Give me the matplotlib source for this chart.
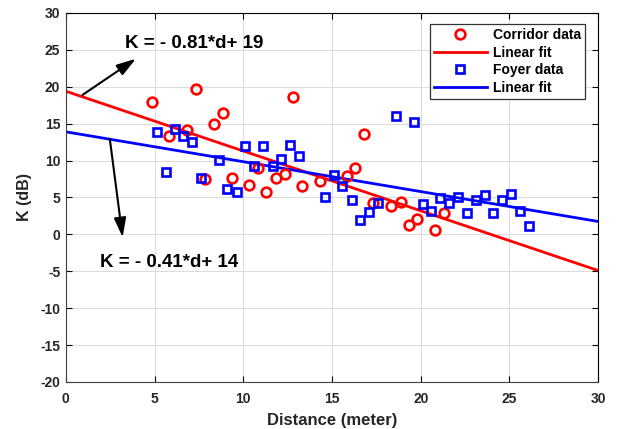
import matplotlib
matplotlib.use("Agg")
import matplotlib.pyplot as plt
import numpy as np

plt.rcParams['font.family'] = ['Liberation Sans', 'DejaVu Sans']
plt.rcParams['font.weight'] = 'bold'
plt.rcParams['axes.unicode_minus'] = False

corridor_d = [4.87, 5.83, 6.84, 7.33, 7.86, 8.33, 8.84, 9.35, 10.3, 10.85, 11.3, 11.83, 12.35,
              12.82, 13.33, 14.3, 15.83, 16.32, 16.82, 17.3, 18.3, 18.86, 19.33, 19.8, 20.8, 21.3]
corridor_k = [17.9, 13.4, 14.1, 19.7, 7.5, 14.9, 16.4, 7.6, 6.7, 9.0, 5.7, 7.7, 8.2,
              18.6, 6.5, 7.3, 7.9, 9.0, 13.6, 4.3, 3.8, 4.4, 1.3, 2.1, 0.6, 2.9]

foyer_d = [5.15, 5.64, 6.15, 6.62, 7.12, 7.6, 8.61, 9.1, 9.63, 10.11, 10.6, 11.1, 11.65, 12.13,
           12.63, 13.14, 14.6, 15.1, 15.58, 16.1, 16.58, 17.1, 17.6, 18.6, 19.6, 20.1, 20.6,
           21.1, 21.6, 22.1, 22.6, 23.1, 23.6, 24.1, 24.6, 25.1, 25.6, 26.1]
foyer_k = [13.9, 8.5, 14.3, 13.3, 12.5, 7.7, 10.1, 6.2, 5.7, 12.0, 9.3, 12.0, 9.2, 10.25,
           12.06, 10.6, 5.1, 8.0, 6.6, 4.6, 1.94, 3.1, 4.2, 16.0, 15.2, 4.1, 3.2,
           4.97, 4.25, 5.06, 2.9, 4.7, 5.3, 2.9, 4.7, 5.5, 3.2, 1.1]

corridor_fit = [-0.81, 19.4]   # slope, intercept
foyer_fit = [-0.405, 13.9]

fit_x = [0, 30]

fig = plt.figure(figsize=(6.33, 4.29), dpi=100)
ax = fig.add_axes([0.104, 0.1096, 0.841, 0.8601])

ax.plot(corridor_d, corridor_k, 'o', ls='none', mec='#ff0000', mfc='none', ms=7, mew=1.9,
        label='Corridor data', zorder=3)
ax.plot(fit_x, np.polyval(corridor_fit, fit_x), '-', color='#ff0000', lw=2, label='Linear fit', zorder=2)
ax.plot(foyer_d, foyer_k, 's', ls='none', mec='#0000ff', mfc='none', ms=5.3, mew=1.9,
        label='Foyer data', zorder=3)
ax.plot(fit_x, np.polyval(foyer_fit, fit_x), '-', color='#0000ff', lw=2, label='Linear fit', zorder=2)

ax.set_xlim(0, 30)
ax.set_ylim(-20, 30)
ax.set_xticks(range(0, 31, 5))
ax.set_yticks(range(-20, 31, 5))
ax.grid(True, color='#dcdcdc', lw=0.8)
ax.set_axisbelow(True)
ax.tick_params(direction='in', top=True, right=True, labelsize=10, length=4.5, width=0.8, pad=4)
ax.tick_params(axis='x', pad=7)
for lab in ax.get_xticklabels() + ax.get_yticklabels():
    lab.set_fontweight('bold')
    lab.set_color('#262626')
for s in ax.spines.values():
    s.set_linewidth(0.8)
ax.spines['left'].set_color('#404040')
ax.spines['bottom'].set_color('#404040')

ax.set_xlabel('Distance (meter)', fontsize=12, fontweight='bold', color='#262626', labelpad=5)
ax.set_ylabel('K (dB)', fontsize=11.5, fontweight='bold', color='#262626', labelpad=6)

arrow_style = dict(arrowstyle='-|>,head_length=0.9,head_width=0.28', color='black', lw=1.5,
                   mutation_scale=13, shrinkA=0, shrinkB=0)
ax.annotate('', xy=(3.95, 23.8), xytext=(0.94, 18.9), arrowprops=arrow_style)
ax.text(3.33, 25.9, 'K = - 0.81*d+ 19', fontsize=13.5, fontweight='bold', va='center', ha='left')

ax.annotate('', xy=(3.2, -0.4), xytext=(2.48, 12.9), arrowprops=arrow_style)
ax.text(1.92, -3.75, 'K = - 0.41*d+ 14', fontsize=13.5, fontweight='bold', va='center', ha='left')

leg = ax.legend(loc='upper right', bbox_to_anchor=(0.9756, 0.970), borderaxespad=0,
                fontsize=10, frameon=True, fancybox=False, edgecolor='#333333', framealpha=1,
                handlelength=3.8, borderpad=0.3, labelspacing=0.25, handletextpad=0.45)
leg.get_frame().set_linewidth(0.9)
for t in leg.get_texts():
    t.set_fontweight('bold')

fig.savefig('out.png', dpi=100)
